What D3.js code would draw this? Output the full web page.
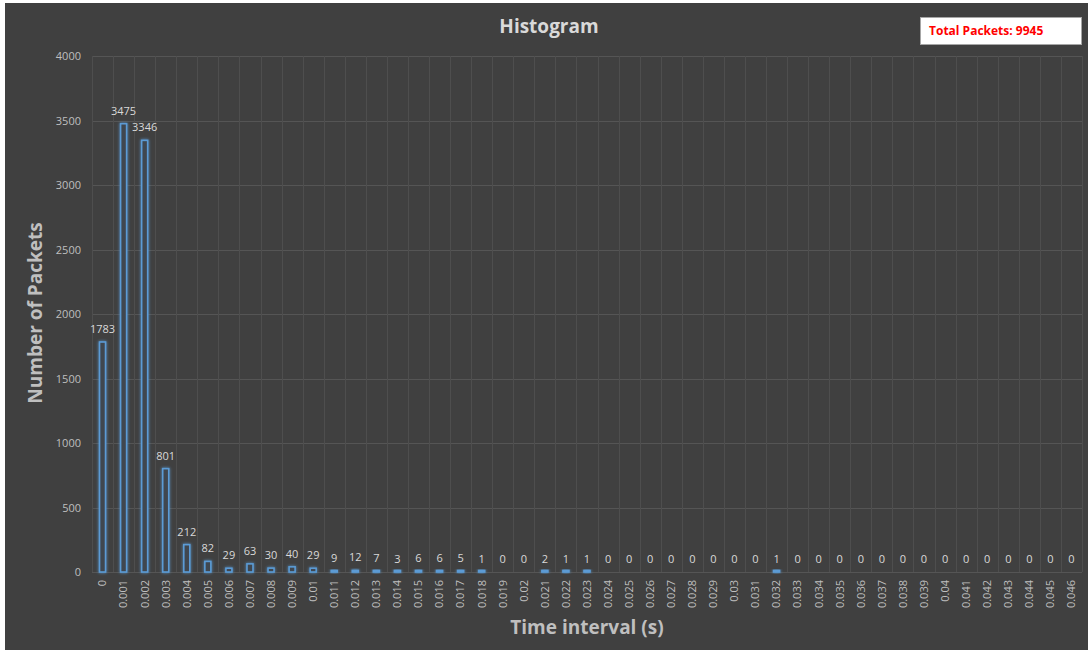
<!DOCTYPE html>
<html>
<head>
<meta charset="utf-8">
<script src="https://cdn.jsdelivr.net/npm/d3@7"></script>
<style>
  body { margin: 0; background: #fff; }
  text { font-family: "Open Sans", "DejaVu Sans", sans-serif; }
</style>
</head>
<body>
<script>
const width = 1088;
const height = 651;

const intervals = ['0','0.001','0.002','0.003','0.004','0.005','0.006','0.007','0.008','0.009',
  '0.01','0.011','0.012','0.013','0.014','0.015','0.016','0.017','0.018','0.019',
  '0.02','0.021','0.022','0.023','0.024','0.025','0.026','0.027','0.028','0.029',
  '0.03','0.031','0.032','0.033','0.034','0.035','0.036','0.037','0.038','0.039',
  '0.04','0.041','0.042','0.043','0.044','0.045','0.046'];
const packets = [1783,3475,3346,801,212,82,29,63,30,40,
  29,9,12,7,3,6,6,5,1,0,
  0,2,1,1,0,0,0,0,0,0,
  0,0,1,0,0,0,0,0,0,0,
  0,0,0,0,0,0,0];
const yTicks = [0,500,1000,1500,2000,2500,3000,3500,4000];
const totalLabel = 'Total Packets: 9945';

const data = intervals.map((k, i) => ({ k: k, v: packets[i] }));

const margin = { top: 56, right: 6, bottom: 79, left: 92 };

const svg = d3.select('body').append('svg')
  .attr('width', width)
  .attr('height', height);

// glow for the bars
const defs = svg.append('defs');
const glow = defs.append('filter').attr('id', 'glow')
  .attr('x', '-100%').attr('y', '-100%').attr('width', '300%').attr('height', '300%');
glow.append('feGaussianBlur').attr('in', 'SourceGraphic').attr('stdDeviation', 1.6).attr('result', 'blur');
const merge = glow.append('feMerge');
merge.append('feMergeNode').attr('in', 'blur');
merge.append('feMergeNode').attr('in', 'SourceGraphic');

svg.append('rect')
  .attr('x', 5).attr('y', 3)
  .attr('width', width - 5).attr('height', height - 4)
  .attr('fill', '#404040');

const x = d3.scaleBand()
  .domain(intervals)
  .range([margin.left, width - margin.right]);

const y = d3.scaleLinear()
  .domain([0, 4000])
  .range([572, margin.top]);

// grid
const grid = svg.append('g').attr('class', 'grid');
grid.selectAll('.hline')
  .data(yTicks)
  .enter().append('line')
    .attr('x1', x.range()[0]).attr('x2', x.range()[1])
    .attr('y1', d => Math.round(y(d)) + 0.5).attr('y2', d => Math.round(y(d)) + 0.5)
    .attr('stroke', '#555555');
grid.selectAll('.vline')
  .data(intervals.concat(['end']))
  .enter().append('line')
    .attr('x1', (d, i) => Math.round(x.range()[0] + i * x.step()) + 0.5)
    .attr('x2', (d, i) => Math.round(x.range()[0] + i * x.step()) + 0.5)
    .attr('y1', y(4000)).attr('y2', y(0))
    .attr('stroke', '#4e4e4e');

// y axis labels
const yAxis = svg.append('g')
  .attr('transform', `translate(${margin.left - 11},0)`)
  .call(d3.axisLeft(y).tickValues(yTicks).tickFormat(d3.format('d')).tickSize(0).tickPadding(0));
yAxis.select('.domain').remove();
yAxis.selectAll('text')
  .attr('fill', '#bfbfbf')
  .style('font-size', '11px');

// x axis labels
const xAxis = svg.append('g')
  .attr('transform', `translate(0,${y(0) + 8})`)
  .call(d3.axisBottom(x).tickSize(0).tickPadding(0));
xAxis.select('.domain').remove();
xAxis.selectAll('text')
  .attr('fill', '#bfbfbf')
  .style('font-size', '11px')
  .attr('text-anchor', 'end')
  .attr('dy', '0.35em')
  .attr('transform', 'rotate(-90)');

// bars
const bw = 6;
svg.append('g')
  .selectAll('.bar')
  .data(data.filter(d => d.v > 0))
  .enter().append('rect')
    .attr('class', 'bar')
    .attr('x', d => x(d.k) + x.bandwidth() / 2 - bw / 2)
    .attr('y', d => Math.min(y(d.v), y(0) - 1.5))
    .attr('width', bw)
    .attr('height', d => Math.max(y(0) - y(d.v), 1.5))
    .attr('fill', '#3f4650')
    .attr('stroke', '#5b9bd5')
    .attr('stroke-width', 1.6)
    .attr('filter', 'url(#glow)');

// value labels
svg.append('g')
  .selectAll('.lbl')
  .data(data)
  .enter().append('text')
    .attr('x', d => x(d.k) + x.bandwidth() / 2)
    .attr('y', d => y(d.v) - 9)
    .attr('text-anchor', 'middle')
    .attr('fill', '#d9d9d9')
    .style('font-size', '11px')
    .text(d => d.v);

// titles
svg.append('text')
  .attr('x', 549).attr('y', 33)
  .attr('text-anchor', 'middle')
  .attr('fill', '#d9d9d9')
  .style('font-size', '19px').style('font-weight', 'bold')
  .text('Histogram');

svg.append('text')
  .attr('transform', 'translate(42,313) rotate(-90)')
  .attr('text-anchor', 'middle')
  .attr('fill', '#bfbfbf')
  .style('font-size', '19px').style('font-weight', 'bold')
  .text('Number of Packets');

svg.append('text')
  .attr('x', 587).attr('y', 634)
  .attr('text-anchor', 'middle')
  .attr('fill', '#bfbfbf')
  .style('font-size', '19px').style('font-weight', 'bold')
  .text('Time interval (s)');

// total box
svg.append('rect')
  .attr('x', 920.5).attr('y', 17.5)
  .attr('width', 161).attr('height', 27)
  .attr('fill', '#ffffff')
  .attr('stroke', '#a6a6a6');
svg.append('text')
  .attr('x', 929).attr('y', 35)
  .attr('fill', '#ff0000')
  .style('font-size', '12px').style('font-weight', 'bold')
  .text(totalLabel);
</script>
</body>
</html>
